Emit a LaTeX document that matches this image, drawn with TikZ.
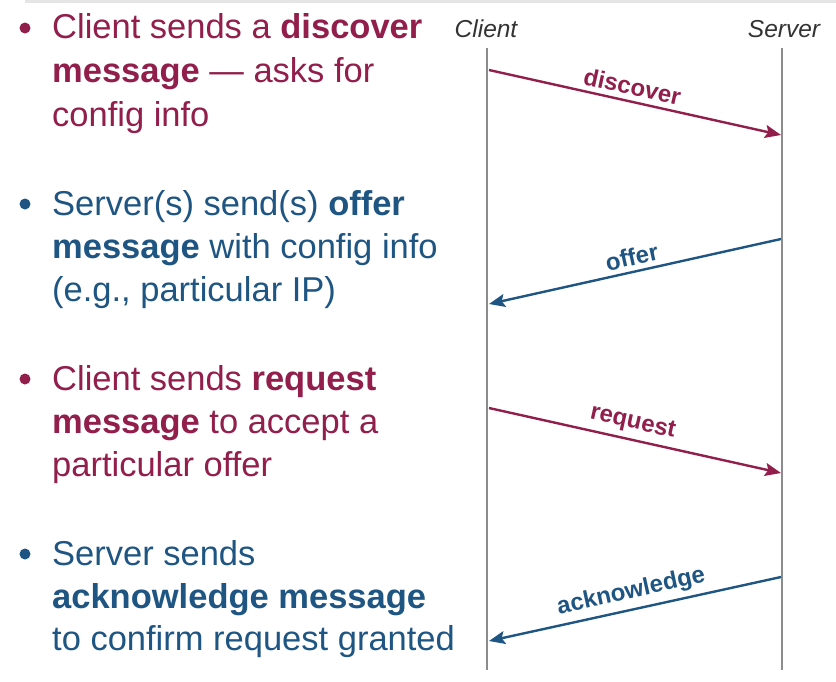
\documentclass[tikz,border=0pt]{standalone}
\usepackage{fontspec}
\setmainfont{Liberation Sans}
\usetikzlibrary{arrows.meta}
\definecolor{dred}{RGB}{145,30,75}
\definecolor{dblue}{RGB}{30,85,130}
\definecolor{life}{RGB}{140,140,140}
\tikzset{
  txt/.style={anchor=base west, inner sep=0pt, font=\fontsize{34.5}{40}\selectfont},
  head/.style={anchor=base, inner sep=0pt, font=\fontsize{24.5}{28}\selectfont\itshape, text=black!80},
  lbl/.style={font=\fontsize{24}{28}\selectfont\bfseries, sloped, above, inner sep=5pt},
  msg/.style={line width=2.4pt, -{Stealth[length=16pt,width=13pt,inset=3pt]}},
  lifeline/.style={draw=life, line width=2.4pt},
  bul/.style={circle, inner sep=0pt, minimum size=11pt}
}
\begin{document}
\begin{tikzpicture}[x=1pt,y=-1pt]
\useasboundingbox (0,0) rectangle (836,681);
\fill[black!10] (25,0) rectangle (836,2.5);
% lifelines
\node[head] (cl) at (486,37) {Client};
\node[head] (sv) at (784,37) {Server};
\coordinate (ctop) at (487,48);
\coordinate (cbot) at (487,670);
\coordinate (stop) at (782,48);
\coordinate (sbot) at (782,670);
\draw[lifeline] (ctop) -- (cbot);
\draw[lifeline] (stop) -- (sbot);
% message endpoints
\coordinate (d1) at (489,70);
\coordinate (d2) at (781,135);
\coordinate (o1) at (781,239);
\coordinate (o2) at (489,304);
\coordinate (r1) at (489,408);
\coordinate (r2) at (781,473);
\coordinate (a1) at (781,577);
\coordinate (a2) at (489,641);
\draw[msg,dred] (d1) -- node[lbl,text=dred,pos=0.48] (ld) {discover} (d2);
\draw[msg,dblue] (o1) -- node[lbl,text=dblue,pos=0.5] (lo) {offer} (o2);
\draw[msg,dred] (r1) -- node[lbl,text=dred,pos=0.48] (lr) {request} (r2);
\draw[msg,dblue] (a1) -- node[lbl,text=dblue,pos=0.5] (la) {acknowledge} (a2);
% bullets
\node[bul,fill=dred] (b1) at (25,28) {};
\node[txt,text=dred] (t11) at (52,38) {Client sends a \textbf{discover}};
\node[txt,text=dred] (t12) at (52,82) {\textbf{message} — asks for};
\node[txt,text=dred] (t13) at (52,126) {config info};
\node[bul,fill=dblue] (b2) at (25,204) {};
\node[txt,text=dblue] (t21) at (52,215) {Server(s) send(s) \textbf{offer}};
\node[txt,text=dblue] (t22) at (52,258) {\textbf{message} with config info};
\node[txt,text=dblue] (t23) at (52,301) {(e.g., particular IP)};
\node[bul,fill=dred] (b3) at (25,379) {};
\node[txt,text=dred] (t31) at (52,390) {Client sends \textbf{request}};
\node[txt,text=dred] (t32) at (52,433) {\textbf{message} to accept a};
\node[txt,text=dred] (t33) at (52,476) {particular offer};
\node[bul,fill=dblue] (b4) at (25,554) {};
\node[txt,text=dblue] (t41) at (52,565) {Server sends};
\node[txt,text=dblue] (t42) at (52,608) {\textbf{acknowledge message}};
\node[txt,text=dblue] (t43) at (52,650) {to confirm request granted};
\end{tikzpicture}
\end{document}
